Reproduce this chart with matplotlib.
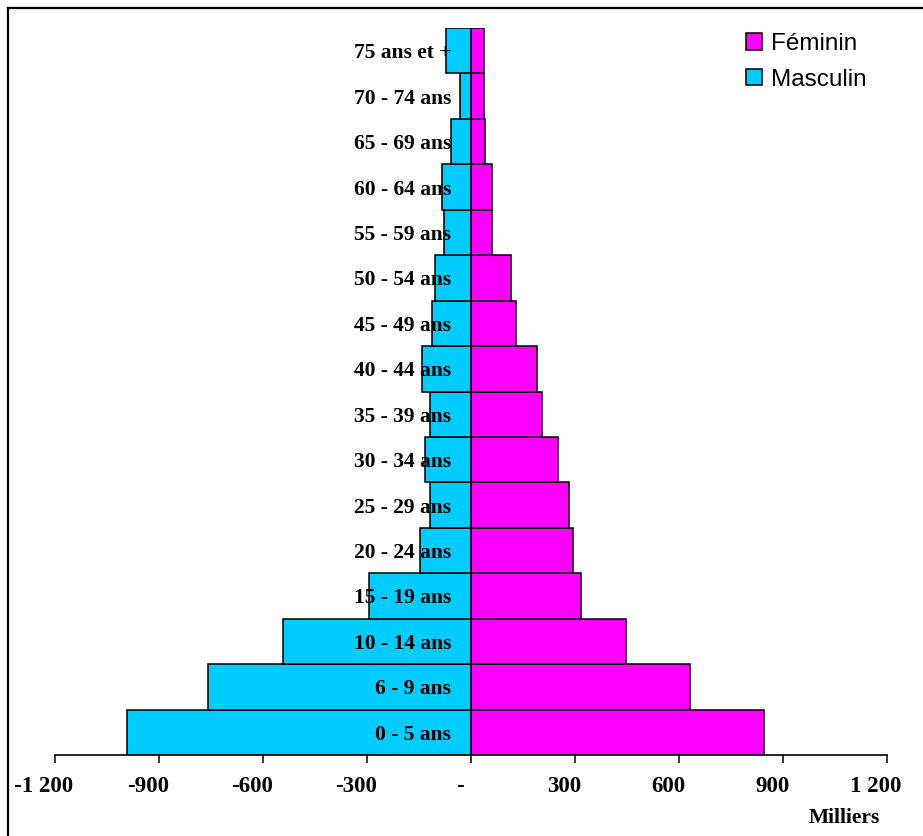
import matplotlib
matplotlib.use("Agg")
from matplotlib import pyplot as plt
from matplotlib.patches import Patch
from matplotlib.lines import Line2D
from matplotlib.transforms import ScaledTranslation

# tranches d'age, du bas vers le haut
ages = ["0 - 5 ans", "6 - 9 ans", "10 - 14 ans", "15 - 19 ans", "20 - 24 ans",
        "25 - 29 ans", "30 - 34 ans", "35 - 39 ans", "40 - 44 ans", "45 - 49 ans",
        "50 - 54 ans", "55 - 59 ans", "60 - 64 ans", "65 - 69 ans", "70 - 74 ans",
        "75 ans et +"]
masculin = [-993, -760, -542, -295, -147, -117, -132, -117, -142, -112,
            -103, -77, -83, -58, -33, -73]
feminin = [844, 631, 446, 318, 295, 283, 250, 204, 189, 130,
           115, 61, 61, 41, 37, 37]
xticks = [-1200, -900, -600, -300, 0, 300, 600, 900, 1200]
xtick_labels = ["-1 200", "-900", "-600", "-300", "-", "300", "600", "900", "1 200"]

W, H = 923, 836
serif = "Liberation Serif"

fig = plt.figure(figsize=(W / 100, H / 100), dpi=100)
ax = fig.add_axes([55 / W, 1 - 755 / H, 832 / W, (755 - 28) / H])

y = list(range(len(ages)))
ax.barh(y, masculin, height=1.0, color="#00CCFF", edgecolor="black", linewidth=1.1)
ax.barh(y, feminin, height=1.0, color="#FF00FF", edgecolor="black", linewidth=1.1)

ax.set_xlim(-1200, 1200)
ax.set_ylim(-0.5, len(ages) - 0.5)

for s in ["top", "right"]:
    ax.spines[s].set_visible(False)
ax.spines["left"].set_position(("data", 0))
ax.spines["left"].set_visible(False)
ax.spines["bottom"].set_linewidth(1.2)

ax.set_xticks(xticks)
ax.set_xticklabels(xtick_labels, fontfamily=serif, fontweight="bold", fontsize=16.5)
ax.tick_params(axis="x", direction="out", length=6, width=1.1, pad=9)
# les etiquettes sont un peu decalees a gauche des graduations
shift = ScaledTranslation(-11 / 100, 0, fig.dpi_scale_trans)
for lab in ax.get_xticklabels():
    lab.set_transform(lab.get_transform() + shift)

ax.set_yticks(y)
ax.set_yticklabels(ages, fontfamily=serif, fontweight="bold", fontsize=15.5)
ax.tick_params(axis="y", length=0, pad=14.4)

fig.text(880 / W, 1 - 818 / H, "Milliers", ha="right", va="center",
         fontfamily=serif, fontweight="bold", fontsize=15.5)

handles = [Patch(facecolor="#FF00FF", edgecolor="black", linewidth=1.1),
           Patch(facecolor="#00CCFF", edgecolor="black", linewidth=1.1)]
fig.legend(handles, ["Féminin", "Masculin"], loc="upper left",
           bbox_to_anchor=(746 / W, 1 - 33 / H), frameon=False,
           prop={"family": "Liberation Sans", "size": 17.5},
           handlelength=0.66, handleheight=0.66, handletextpad=0.35,
           borderpad=0, borderaxespad=0, labelspacing=0.56)

# cadre
fig.add_artist(Line2D([8 / W, 8 / W], [1 - 8 / H, 0], transform=fig.transFigure,
                      color="black", linewidth=1.6))
fig.add_artist(Line2D([8 / W, 1], [1 - 8 / H, 1 - 8 / H], transform=fig.transFigure,
                      color="black", linewidth=1.6))

fig.savefig("out.png", dpi=100)
